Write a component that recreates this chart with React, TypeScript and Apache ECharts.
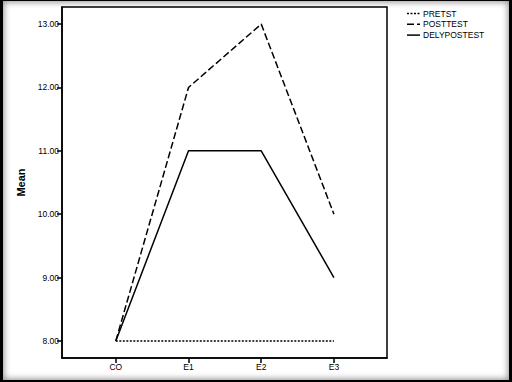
import React, { useEffect, useRef } from "react";
import * as echarts from "echarts";

const categories = ["CO", "E1", "E2", "E3"];
const seriesNames = ["PRETST", "POSTTEST", "DELYPOSTEST"];
const pretst = [8, 8, 8, 8];
const posttest = [8, 12, 13, 10];
const delypostest = [8, 11, 11, 9];
const yTicks = [8, 9, 10, 11, 12, 13];

const FONT = "'Liberation Sans', Arial, sans-serif";
const dashTypes: any[] = [[2, 1.5], [7, 3], "solid"];

export default function App() {
  const ref = useRef<HTMLDivElement>(null);
  useEffect(() => {
    document.body.style.margin = "0";
    const chart = echarts.init(ref.current!, null, { renderer: "svg" });
    const toPairs = (arr: number[]) => arr.map((v, i) => [i, v]);
    const values = [pretst, posttest, delypostest];
    const legendGraphics: any[] = [];
    seriesNames.forEach((n, i) => {
      const y = 13.5 + i * 10.8;
      legendGraphics.push({
        type: "line",
        shape: { x1: 407, y1: y, x2: 420, y2: y },
        style: { stroke: "#000", lineWidth: 1.5, lineDash: dashTypes[i] === "solid" ? null : dashTypes[i] },
      });
      legendGraphics.push({
        type: "text",
        x: 423,
        y: y,
        style: {
          text: n,
          fontSize: 8.5,
          fontFamily: FONT,
          fill: "#000",
          verticalAlign: "middle",
          align: "left",
        },
      });
    });
    chart.setOption({
      animation: false,
      backgroundColor: "transparent",
      textStyle: { fontFamily: FONT },
      grid: {
        left: 62,
        top: 7,
        right: 125,
        bottom: 24,
        show: true,
        borderColor: "#000",
        borderWidth: 1.5,
        backgroundColor: "#fff",
      },
      graphic: legendGraphics,
      xAxis: {
        type: "value",
        min: -0.74,
        max: 3.73,
        splitLine: { show: false },
        axisLine: { show: true, onZero: false, lineStyle: { color: "#000", width: 1.5 } },
        axisTick: {
          show: true,
          length: 5,
          customValues: [0, 1, 2, 3],
          lineStyle: { color: "#000", width: 1.5 },
        },
        axisLabel: {
          customValues: [0, 1, 2, 3],
          formatter: (v: number) => categories[Math.round(v)] ?? "",
          fontSize: 8.5,
          color: "#000",
          margin: 4,
          fontFamily: FONT,
        },
      },
      yAxis: {
        type: "value",
        min: 7.73,
        max: 13.27,
        name: "Mean",
        nameLocation: "middle",
        nameGap: 35,
        nameRotate: 90,
        nameTextStyle: { fontSize: 11, fontWeight: "bold", color: "#000", fontFamily: FONT },
        splitLine: { show: false },
        axisLine: { show: true, onZero: false, lineStyle: { color: "#000", width: 1.5 } },
        axisTick: {
          show: true,
          length: 5,
          customValues: yTicks,
          lineStyle: { color: "#000", width: 1.5 },
        },
        axisLabel: {
          customValues: yTicks,
          formatter: (v: number) => v.toFixed(2),
          fontSize: 8.5,
          color: "#000",
          margin: 3,
          fontFamily: FONT,
        },
      },
      series: seriesNames.map((n, i) => ({
        name: n,
        type: "line",
        symbol: "none",
        data: toPairs(values[i]),
        lineStyle: { color: "#000", width: 1.5, type: dashTypes[i] },
        itemStyle: { color: "#000" },
      })),
    });
    return () => chart.dispose();
  }, []);

  return (
    <div style={{ position: "relative", width: 512, height: 382, background: "#fff" }}>
      <div ref={ref} style={{ position: "absolute", left: 0, top: 0, width: 512, height: 382 }} />
      <div
        style={{
          position: "absolute",
          left: 0,
          top: 0,
          width: 512,
          height: 382,
          boxSizing: "border-box",
          borderStyle: "solid",
          borderColor: "#000",
          borderWidth: "1px 3px 2px 3px",
          boxShadow: "inset 0 0 6px 1px rgba(0,0,0,0.45)",
          pointerEvents: "none",
        }}
      />
    </div>
  );
}
